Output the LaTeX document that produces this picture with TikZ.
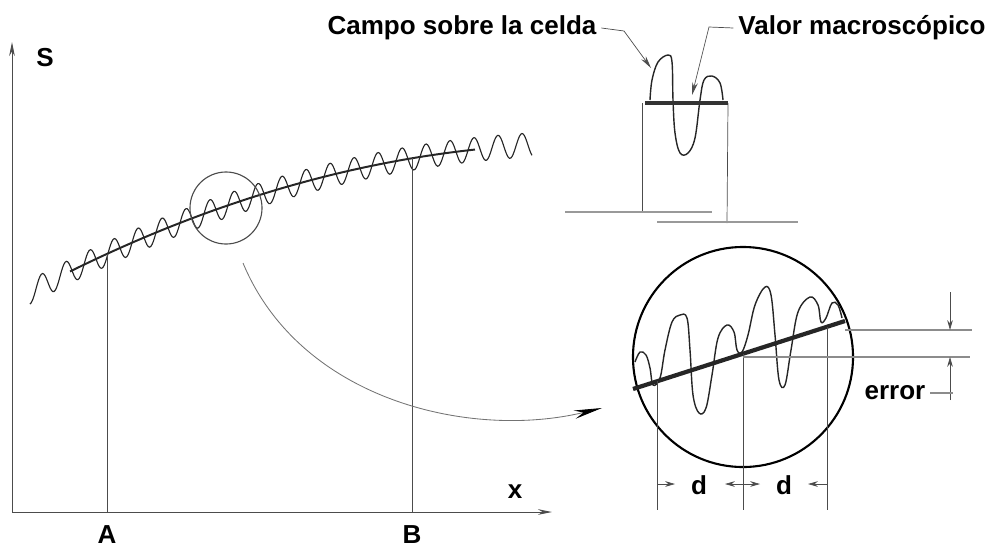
\documentclass[tikz,border=0pt]{standalone}
\usepackage{fontspec}
\setmainfont{Liberation Sans}
\usetikzlibrary{arrows.meta}

\begin{document}
\begin{tikzpicture}[
    x=0.025cm, y=-0.025cm,
    font=\fontsize{18.5}{20}\selectfont\bfseries,
    declare function={meanS(\x)=308.4-0.5605*\x+4.76*(\x/100)^2;},
    thinline/.style={line width=0.5pt, black!70},
    wave/.style={line width=0.8pt, black!85},
    meanline/.style={line width=1.4pt, black!85},
    tip/.style={-{Stealth[length=#1, width=4pt]}},
    tip/.default=7pt,
    lens/.style={circle, draw, inner sep=0pt}
]
\useasboundingbox (0,0) rectangle (992,552);

    % ==========================================
    % AXES
    % ==========================================
    \coordinate (origin) at (12,512);
    \coordinate (s_top)  at (12,42);
    \coordinate (x_end)  at (552,512);

    \draw[thinline, line width=0.7pt, tip=10pt] (origin) -- (s_top);
    \draw[thinline, line width=0.7pt, tip=10pt] (origin) -- (x_end);

    \node (lab_s) at (45,58)   {S};
    \node (lab_x) at (515,492) {x};

    % ==========================================
    % FIELD AND MACROSCOPIC VALUE
    % ==========================================
    \draw[wave] plot[domain=30:532, samples=400, smooth]
        (\x, {meanS(\x) + 12*sin(15*\x)});
    \draw[meanline] plot[domain=70:475, samples=60] (\x, {meanS(\x)});

    % Points A and B
    \coordinate (a_curve) at (107,254);
    \coordinate (a_axis)  at (107,512);
    \coordinate (b_curve) at (412,158);
    \coordinate (b_axis)  at (412,512);

    \draw[thinline] (a_curve) -- (a_axis);
    \draw[thinline] (b_curve) -- (b_axis);

    \node (lab_a) at (107,535) {A};
    \node (lab_b) at (412,535) {B};

    % Zoomed region
    \node[lens, thinline, line width=0.8pt, minimum size=1.8cm] (lens_small) at (226,208) {};

    \coordinate (arc_start) at (243,263);
    \coordinate (arc_end)   at (602,408);
    \draw[black!55, line width=0.6pt, -{Stealth[length=20pt, width=6pt, black]}]
        (arc_start) .. controls (300,400) and (470,440) .. (arc_end);

    % ==========================================
    % CELL DETAIL (top)
    % ==========================================
    \coordinate (cell_l) at (642,103);
    \coordinate (cell_r) at (728,103);

    \draw[thinline] (cell_l) -- (642,213);
    \draw[thinline] (cell_r) -- (727,223);
    \draw[black!40, line width=0.8pt] (565,212) -- (712,212);
    \draw[black!40, line width=0.8pt] (657,222) -- (798,222);

    \draw[wave, line width=1pt] plot[smooth, tension=0.6] coordinates {
        (650,100) (652,80) (658,62) (668,55) (672,62) (673,100) (675,133)
        (680,153) (688,153) (695,138) (700,100) (704,80) (712,76)
        (720,83) (723,100)};
    \draw[line width=3pt, black!80] (645,103) -- (cell_r);

    \node (lab_campo) at (462,28) {Campo sobre la celda};
    \node (lab_valor) at (862,28) {Valor macroscópico};

    \coordinate (campo_bend) at (624,31);
    \coordinate (campo_tip)  at (651,68);
    \coordinate (valor_bend) at (709,27);
    \coordinate (valor_tip)  at (692,95);

    \draw[thinline, tip=9pt] (lab_campo.east) -- (campo_bend) -- (campo_tip);
    \draw[thinline, tip=9pt] (lab_valor.west) -- (valor_bend) -- (valor_tip);

    % ==========================================
    % MAGNIFIED VIEW (bottom right)
    % ==========================================
    \node[lens, line width=1.5pt, minimum size=5.5cm] (lens_big) at (743,357) {};

    \coordinate (mean_l) at (633,389);
    \coordinate (mean_r) at (845,321);

    \draw[wave, line width=1pt] plot[smooth, tension=0.6] coordinates {
        (635,362) (640,352) (646,355) (650,368) (653,385) (660,378)
        (665,350) (672,322) (680,315) (687,318) (690,350) (693,395)
        (699,413) (706,408) (712,375) (718,338) (727,325) (734,332)
        (737,350) (742,352) (748,335) (755,305) (765,287) (771,295)
        (775,335) (779,380) (785,385) (791,350) (798,312) (810,297)
        (818,305) (821,322) (826,318) (832,303) (838,305) (842,318)};
    \draw[line width=3pt, black!85] (mean_l) -- (mean_r);

    % Cell width
    \draw[thinline] (657,381) -- (657,510);
    \draw[thinline] (743,354) -- (743,510);
    \draw[thinline] (827,327) -- (827,510);

    \node (lab_d1) at (699,485) {d};
    \node (lab_d2) at (784,485) {d};

    \draw[thinline, tip] (657,484) -- (675,484);
    \draw[thinline, tip] (743,484) -- (725,484);
    \draw[thinline, tip] (743,484) -- (760,484);
    \draw[thinline, tip] (827,484) -- (808,484);

    % Error
    \coordinate (err_top) at (972,330);
    \coordinate (err_bot) at (970,357);

    \draw[black!45, line width=0.8pt] (845,330) -- (err_top);
    \draw[black!45, line width=0.8pt] (743,357) -- (err_bot);

    \draw[thinline, tip] (950,292) -- (950,330);
    \draw[thinline, tip] (950,400) -- (950,357);

    \node (lab_error) at (895,393) {error};
    \draw[black!45, line width=0.8pt] (lab_error.east) -- (953,393);

\end{tikzpicture}
\end{document}
